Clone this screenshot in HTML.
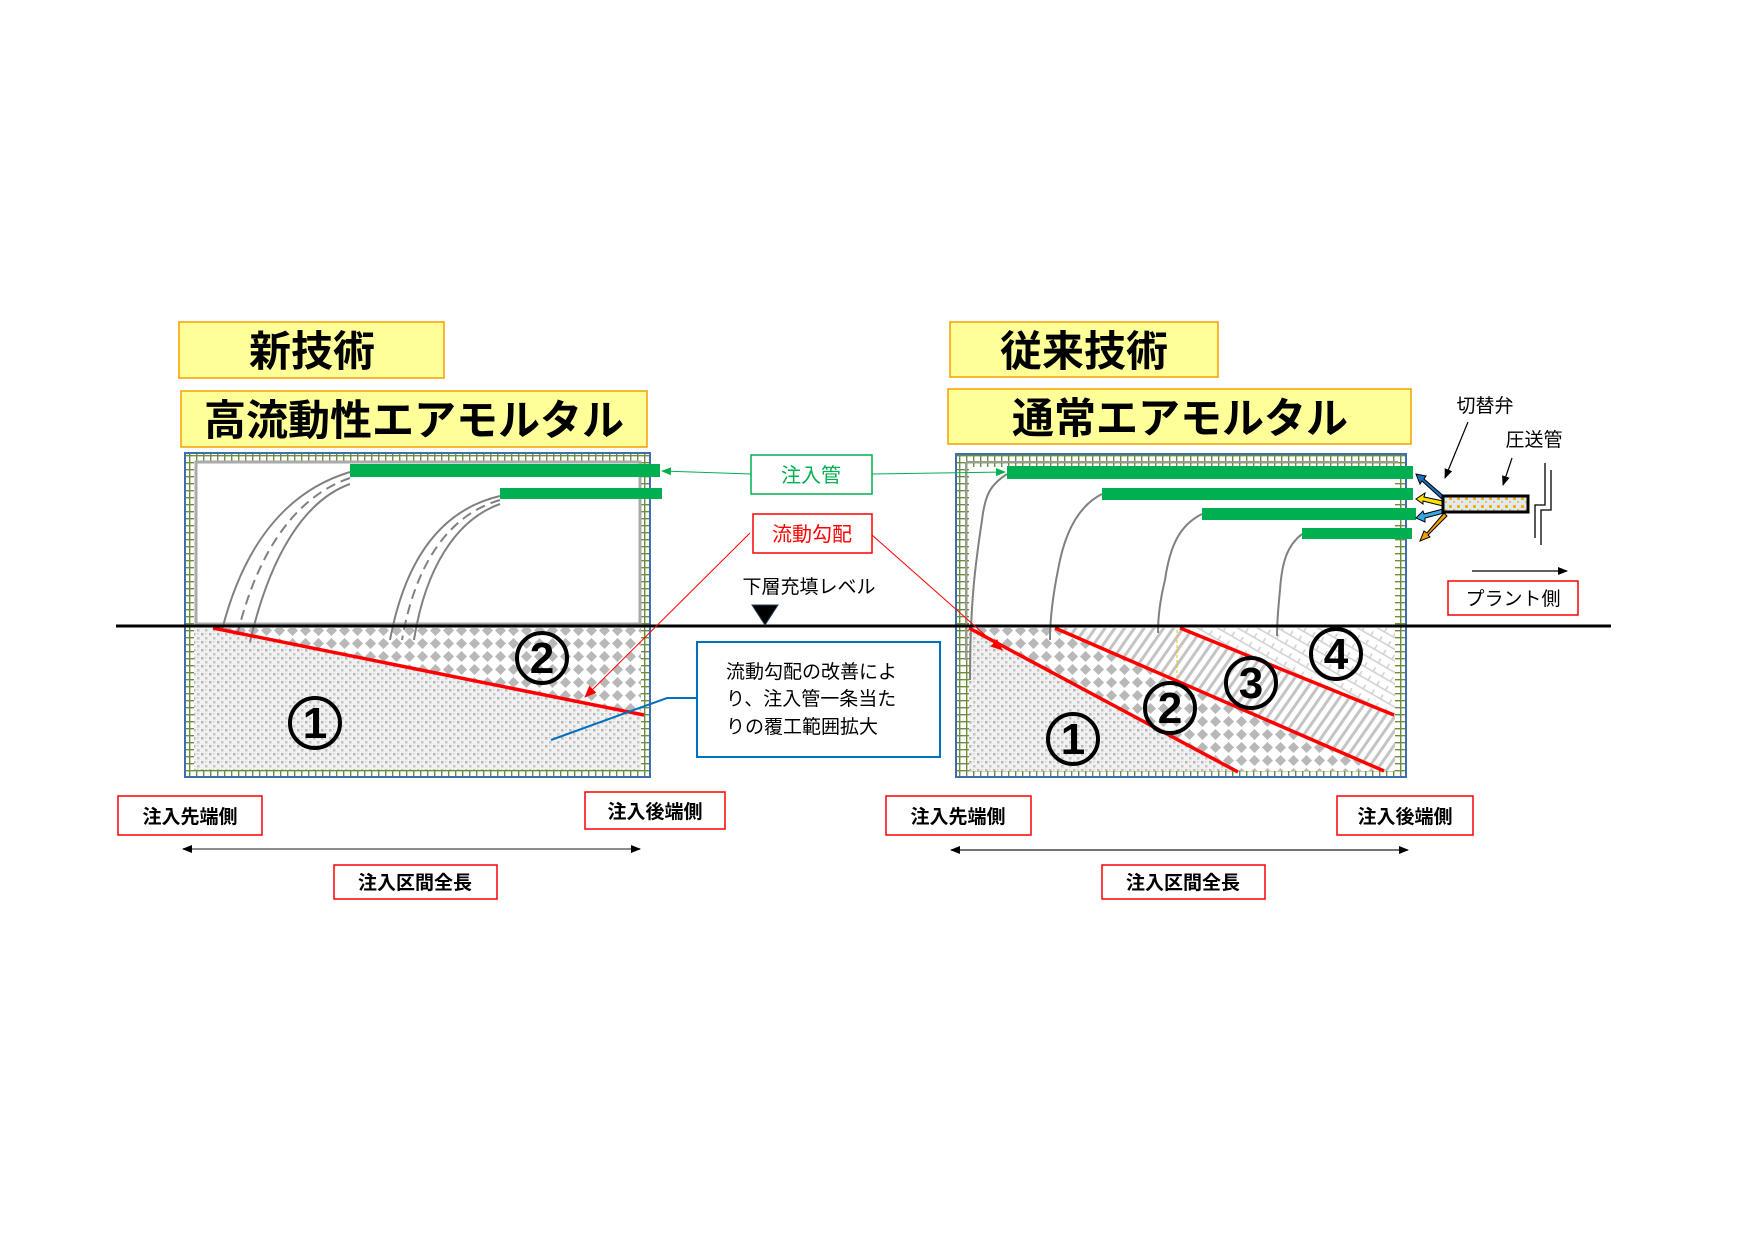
<!DOCTYPE html>
<html><head><meta charset="utf-8">
<style>
html,body{margin:0;padding:0;background:#fff;}
svg{display:block;}
text{font-family:"Liberation Sans","Noto Sans CJK JP",sans-serif;}
</style></head>
<body>
<svg width="1754" height="1240" viewBox="0 0 1754 1240" xmlns="http://www.w3.org/2000/svg">
<defs>
  <pattern id="speck" width="8" height="8" patternUnits="userSpaceOnUse">
    <rect width="8" height="8" fill="#f1f1f1"/>
    <rect x="1" y="1" width="2.5" height="2.5" fill="#b8b8b8"/>
    <rect x="5" y="5" width="2.5" height="2.5" fill="#c4c4c4"/>
    <rect x="5" y="1" width="1.5" height="1.5" fill="#d0d0d0"/>
  </pattern>
  <pattern id="diam" width="13" height="13" patternUnits="userSpaceOnUse">
    <rect width="13" height="13" fill="#fff"/>
    <path d="M6.5 1 L12 6.5 L6.5 12 L1 6.5Z" fill="#b8b8b8"/>
  </pattern>
  <pattern id="hatch" width="8" height="8" patternUnits="userSpaceOnUse" patternTransform="rotate(35)">
    <rect width="8" height="8" fill="#fff"/>
    <rect width="3" height="8" fill="#c4c4c4"/>
  </pattern>
  <pattern id="cross" width="10" height="10" patternUnits="userSpaceOnUse" patternTransform="rotate(30)">
    <rect width="10" height="10" fill="#fff"/>
    <path d="M0 5 H10 M5 0 V5" stroke="#d0d0d0" stroke-width="1.5"/>
  </pattern>
  <pattern id="ladder" width="7" height="7" patternUnits="userSpaceOnUse">
    <rect width="7" height="7" fill="#fff"/>
    <path d="M0 0.7 H7 M0.7 0 V7" stroke="#6a8e3a" stroke-width="1.4"/>
  </pattern>
  <pattern id="pipe" width="8" height="8" patternUnits="userSpaceOnUse">
    <rect width="8" height="8" fill="#dfe9f5"/>
    <rect x="1" y="1" width="3" height="3" fill="#f5b000"/>
    <rect x="5" y="5" width="2" height="2" fill="#f5c040"/>
  </pattern>
  <marker id="ag" markerWidth="10" markerHeight="8" refX="9" refY="4" orient="auto" markerUnits="userSpaceOnUse"><path d="M0 0 L10 4 L0 8Z" fill="#00b050"/></marker>
  <marker id="ar" markerWidth="12" markerHeight="10" refX="11" refY="5" orient="auto" markerUnits="userSpaceOnUse"><path d="M0 0 L12 5 L0 10Z" fill="#ff0000"/></marker>
  <marker id="ak" markerWidth="10" markerHeight="8" refX="9" refY="4" orient="auto" markerUnits="userSpaceOnUse"><path d="M0 0 L10 4 L0 8Z" fill="#000"/></marker>
  <marker id="ak2" markerWidth="10" markerHeight="8" refX="1" refY="4" orient="auto" markerUnits="userSpaceOnUse"><path d="M10 0 L0 4 L10 8Z" fill="#000"/></marker>
</defs>

<!-- Titles -->
<rect x="179" y="322" width="265" height="56" fill="#ffff99" stroke="#f5a000" stroke-width="1.5"/>
<text x="312" y="366" font-size="42" font-weight="bold" text-anchor="middle">新技術</text>
<rect x="181" y="391" width="466" height="56" fill="#ffff99" stroke="#f5a000" stroke-width="1.5"/>
<text x="414" y="435" font-size="42" font-weight="bold" text-anchor="middle">高流動性エアモルタル</text>

<rect x="950" y="322" width="268" height="55" fill="#ffff99" stroke="#f5a000" stroke-width="1.5"/>
<text x="1084" y="366" font-size="42" font-weight="bold" text-anchor="middle">従来技術</text>
<rect x="948" y="389" width="463" height="55" fill="#ffff99" stroke="#f5a000" stroke-width="1.5"/>
<text x="1180" y="433" font-size="42" font-weight="bold" text-anchor="middle">通常エアモルタル</text>

<!-- LEFT BOX -->
<rect x="185" y="453" width="465" height="324" fill="url(#ladder)" stroke="#3d6fb0" stroke-width="2"/>
<rect x="194" y="461" width="447" height="309" fill="#fff"/>
<rect x="194" y="627" width="447" height="143" fill="url(#speck)"/>
<polygon points="213,628 641,628 641,716" fill="url(#diam)"/>
<rect x="196" y="462" width="444" height="162" fill="#fff" stroke="#aaa" stroke-width="3"/>
<!-- streams left -->
<g fill="none" stroke="#808080" stroke-width="2">
  <path d="M350 472 C290 490 245 540 222 630"/>
  <path d="M350 478 C300 495 258 545 236 640" stroke-dasharray="10 6"/>
  <path d="M350 484 C305 500 270 555 250 642"/>
  <path d="M500 496 C440 510 405 560 390 640"/>
  <path d="M500 500 C448 515 415 565 402 640" stroke-dasharray="10 6"/>
  <path d="M500 504 C455 520 425 570 414 640"/>
</g>
<rect x="350" y="464" width="310" height="13" fill="#00b050"/>
<rect x="500" y="488" width="162" height="11" fill="#00b050"/>
<line x1="213" y1="628" x2="644" y2="715" stroke="#ff0000" stroke-width="3.5"/>
<circle cx="315" cy="723" r="25" fill="none" stroke="#000" stroke-width="4"/>
<text x="315" y="738" font-size="44" font-weight="bold" text-anchor="middle">1</text>
<circle cx="542" cy="658" r="25" fill="none" stroke="#000" stroke-width="4"/>
<text x="542" y="673" font-size="44" font-weight="bold" text-anchor="middle">2</text>
<polyline points="551,740 667,698 697,698" fill="none" stroke="#0070c0" stroke-width="2"/>

<!-- RIGHT BOX -->
<rect x="956" y="454" width="450" height="323" fill="url(#ladder)" stroke="#3d6fb0" stroke-width="2"/>
<rect x="969" y="467" width="426" height="303" fill="#fff"/>
<polygon points="969,628 1055,628 1384,771 1238,771" fill="url(#diam)"/>
<polygon points="1055,628 1180,628 1395,715 1395,771 1384,771" fill="url(#hatch)"/>
<polygon points="1180,628 1395,628 1395,715" fill="url(#cross)"/>
<polygon points="969,628 1238,771 969,771" fill="url(#speck)"/>
<path d="M966 462 V660 M966 462 H1398" stroke="#999" stroke-width="2" fill="none"/>
<line x1="1177" y1="630" x2="1177" y2="680" stroke="#f5c000" stroke-width="1" stroke-dasharray="3 2"/>
<g fill="none" stroke="#808080" stroke-width="2">
  <path d="M1007 474 C990 485 985 495 982 520 C976 560 970 600 970 680"/>
  <path d="M1102 494 C1080 505 1065 530 1058 570 C1052 600 1050 620 1050 640"/>
  <path d="M1202 514 C1180 525 1170 545 1165 580 C1160 600 1158 620 1158 633"/>
  <path d="M1302 534 C1288 545 1282 560 1280 590 C1278 610 1277 625 1277 636"/>
</g>
<rect x="1007" y="466" width="406" height="13" fill="#00b050"/>
<rect x="1102" y="488" width="311" height="12" fill="#00b050"/>
<rect x="1202" y="508" width="214" height="12" fill="#00b050"/>
<rect x="1302" y="528" width="110" height="11" fill="#00b050"/>
<g stroke="#ff0000" stroke-width="3.5">
  <line x1="969" y1="628" x2="1238" y2="772"/>
  <line x1="1055" y1="628" x2="1384" y2="771"/>
  <line x1="1180" y1="628" x2="1394" y2="715"/>
</g>
<g font-size="44" font-weight="bold" text-anchor="middle">
<circle cx="1073" cy="739" r="25" fill="none" stroke="#000" stroke-width="4"/><text x="1073" y="754">1</text>
<circle cx="1170" cy="708" r="25" fill="none" stroke="#000" stroke-width="4"/><text x="1170" y="723">2</text>
<circle cx="1251" cy="683" r="25" fill="none" stroke="#000" stroke-width="4"/><text x="1251" y="698">3</text>
<circle cx="1336" cy="654" r="25" fill="none" stroke="#000" stroke-width="4"/><text x="1336" y="669">4</text>
</g>

<!-- level line -->
<line x1="116" y1="626" x2="1611" y2="626" stroke="#000" stroke-width="3"/>

<!-- valve & pipe -->
<g stroke="#000" stroke-width="1">
  <polygon points="1446,498 1424,479 1426,476 1416,474 1420,484 1422,481 1444,501" fill="#1f6fc0"/>
  <polygon points="1443,501 1424,497 1425,493 1416,499 1423,504 1423,501 1443,506" fill="#ffe000"/>
  <polygon points="1443,509 1424,514 1423,511 1416,518 1425,522 1425,518 1444,513" fill="#35a8e8"/>
  <polygon points="1444,513 1427,533 1424,531 1420,541 1430,537 1428,535 1447,516" fill="#f5a000"/>
</g>
<rect x="1443" y="496" width="85" height="16" fill="url(#pipe)" stroke="#000" stroke-width="3"/>
<line x1="1468" y1="422" x2="1445" y2="478" stroke="#000" stroke-width="1.2" marker-end="url(#ak)"/>
<line x1="1512" y1="458" x2="1503" y2="485" stroke="#000" stroke-width="1.2" marker-end="url(#ak)"/>
<polyline points="1545,463 1545,505 1535,505 1535,538" fill="none" stroke="#000" stroke-width="1.3"/>
<polyline points="1551,470 1551,510 1541,510 1541,545" fill="none" stroke="#000" stroke-width="1.3"/>
<text x="1485" y="412" font-size="19" text-anchor="middle">切替弁</text>
<text x="1534" y="446" font-size="19" text-anchor="middle">圧送管</text>
<line x1="1472" y1="571" x2="1567" y2="571" stroke="#000" stroke-width="1.3" marker-end="url(#ak)"/>
<rect x="1448" y="581" width="130" height="34" fill="#fff" stroke="#ff0000" stroke-width="1.5"/>
<text x="1513" y="605" font-size="19" text-anchor="middle">プラント側</text>

<!-- middle callouts -->
<rect x="751" y="455" width="121" height="39" fill="#fff" stroke="#00b050" stroke-width="1.5"/>
<text x="811" y="482" font-size="20" fill="#00b050" text-anchor="middle">注入管</text>
<line x1="751" y1="474" x2="662" y2="471" stroke="#00b050" stroke-width="1" marker-end="url(#ag)"/>
<line x1="872" y1="474" x2="1005" y2="472" stroke="#00b050" stroke-width="1" marker-end="url(#ag)"/>
<rect x="753" y="514" width="119" height="39" fill="#fff" stroke="#ff0000" stroke-width="1.5"/>
<text x="812" y="541" font-size="20" fill="#ff0000" text-anchor="middle">流動勾配</text>
<line x1="750" y1="533" x2="585" y2="697" stroke="#ff0000" stroke-width="1" marker-end="url(#ar)"/>
<line x1="872" y1="535" x2="1002" y2="650" stroke="#ff0000" stroke-width="1" marker-end="url(#ar)"/>
<text x="809" y="593" font-size="19" text-anchor="middle">下層充填レベル</text>
<polygon points="752,605 778,605 765,625" fill="#000" stroke="#1f3f60" stroke-width="1"/>
<rect x="697" y="642" width="243" height="115" fill="#fff" stroke="#0070c0" stroke-width="2"/>
<g font-size="19">
<text x="726" y="678">流動勾配の改善によ</text>
<text x="726" y="705">り、注入管一条当た</text>
<text x="726" y="733">りの覆工範囲拡大</text>
</g>

<!-- bottom labels -->
<g font-size="19" font-weight="bold" text-anchor="middle">
<rect x="118" y="796" width="144" height="39" fill="#fff" stroke="#ff0000" stroke-width="1.5"/><text x="190" y="823">注入先端側</text>
<rect x="585" y="792" width="140" height="37" fill="#fff" stroke="#ff0000" stroke-width="1.5"/><text x="655" y="818">注入後端側</text>
<rect x="334" y="865" width="163" height="34" fill="#fff" stroke="#ff0000" stroke-width="1.5"/><text x="415" y="889">注入区間全長</text>
<rect x="886" y="796" width="145" height="39" fill="#fff" stroke="#ff0000" stroke-width="1.5"/><text x="958" y="823">注入先端側</text>
<rect x="1337" y="796" width="136" height="39" fill="#fff" stroke="#ff0000" stroke-width="1.5"/><text x="1405" y="823">注入後端側</text>
<rect x="1102" y="865" width="163" height="34" fill="#fff" stroke="#ff0000" stroke-width="1.5"/><text x="1183" y="889">注入区間全長</text>
</g>
<line x1="183" y1="849" x2="640" y2="849" stroke="#666" stroke-width="1.5" marker-start="url(#ak2)" marker-end="url(#ak)"/>
<line x1="951" y1="850" x2="1408" y2="850" stroke="#222" stroke-width="1.3" marker-start="url(#ak2)" marker-end="url(#ak)"/>
</svg>
</body></html>
